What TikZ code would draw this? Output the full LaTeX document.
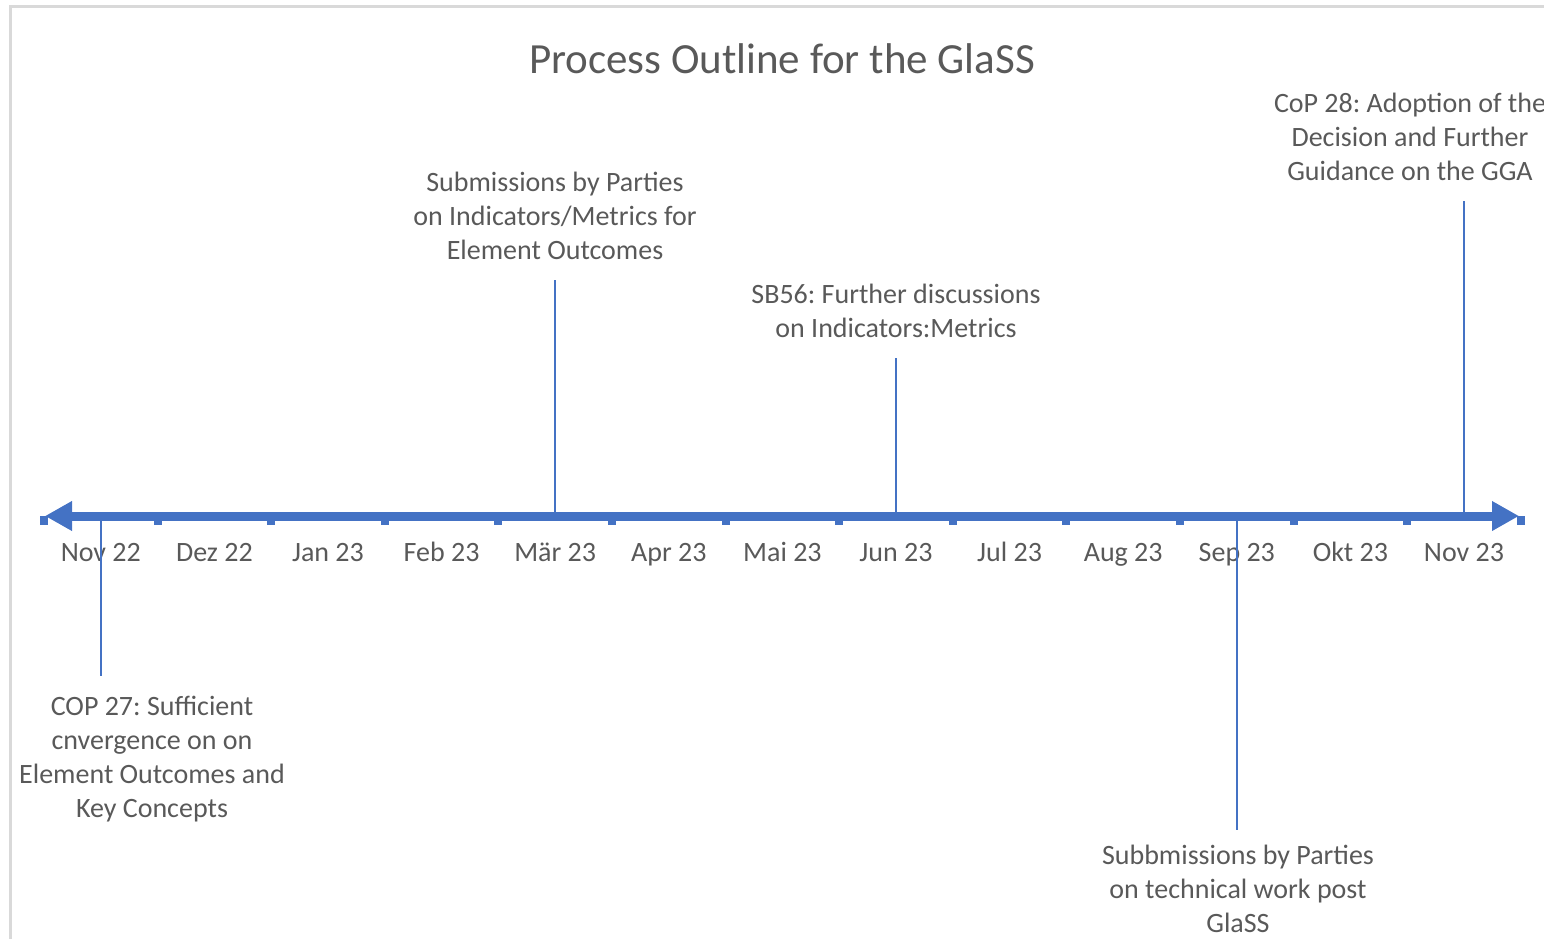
\documentclass[tikz,border=0pt]{standalone}
\usepackage{fontspec}
\setmainfont{Carlito}
\usetikzlibrary{arrows.meta}
\frenchspacing

\definecolor{axisblue}{HTML}{4472C4}
\definecolor{textgray}{HTML}{595959}
\definecolor{framegray}{HTML}{D9D9D9}

\tikzset{
  month/.style={text=textgray, font=\fontsize{28}{34}\selectfont, anchor=base},
  event/.style={text=textgray, font=\fontsize{28}{34}\selectfont, align=center, inner xsep=0pt, inner ysep=20pt},
  eventline/.style={draw=axisblue, line width=2.5pt},
  timeaxis/.style={draw=axisblue, line width=9pt, {Triangle[length=27pt,width=28pt]}-{Triangle[length=27pt,width=28pt]}},
  axistick/.style={fill=axisblue}
}

\begin{document}
\begin{tikzpicture}[x=1pt, y=-1pt]
\useasboundingbox (0,0) rectangle (1544,939);
\draw[framegray, line width=3pt] (10,939) -- (10,7) -- (1544,7);

\node[text=textgray, font=\fontsize{43}{50}\selectfont] (title) at (782,59) {Process Outline for the GlaSS};

% time axis
\draw[timeaxis] (45,516) -- (1519,516);
\foreach \i in {0,...,13}
    \fill[axistick] ({44+113.6*\i-4},516) rectangle ({44+113.6*\i+4},525);
\foreach \mname [count=\i from 0] in {Nov 22,Dez 22,Jan 23,Feb 23,M\"ar 23,Apr 23,Mai 23,Jun 23,Jul 23,Aug 23,Sep 23,Okt 23,Nov 23}
{
    \coordinate (e\i) at ({100.8+113.6*\i},516);
    \node[month] (m\i) at ({100.8+113.6*\i},561) {\mname};
}

% events
\node[event, anchor=north] (cop27) at (152,676) {COP 27: Sufficient\\cnvergence on on\\Element Outcomes and\\Key Concepts};
\node[event, anchor=south] (subm) at (555,280) {Submissions by Parties\\on Indicators/Metrics for\\Element Outcomes};
\node[event, anchor=south] (sb56) at (896,358) {SB56: Further discussions\\on Indicators:Metrics};
\node[event, anchor=north, inner ysep=15pt] (subtech) at (1238,830) {Subbmissions by Parties\\on technical work post\\GlaSS};
\node[event, anchor=south] (cop28) at (1410,201) {CoP 28: Adoption of the\\Decision and Further\\Guidance on the GGA};

\draw[eventline] (e0) -- (e0 |- cop27.north);
\draw[eventline] (e4) -- (e4 |- subm.south);
\draw[eventline] (e7) -- (e7 |- sb56.south);
\draw[eventline] (e10) -- (e10 |- subtech.north);
\draw[eventline] (e12) -- (e12 |- cop28.south);
\end{tikzpicture}
\end{document}
